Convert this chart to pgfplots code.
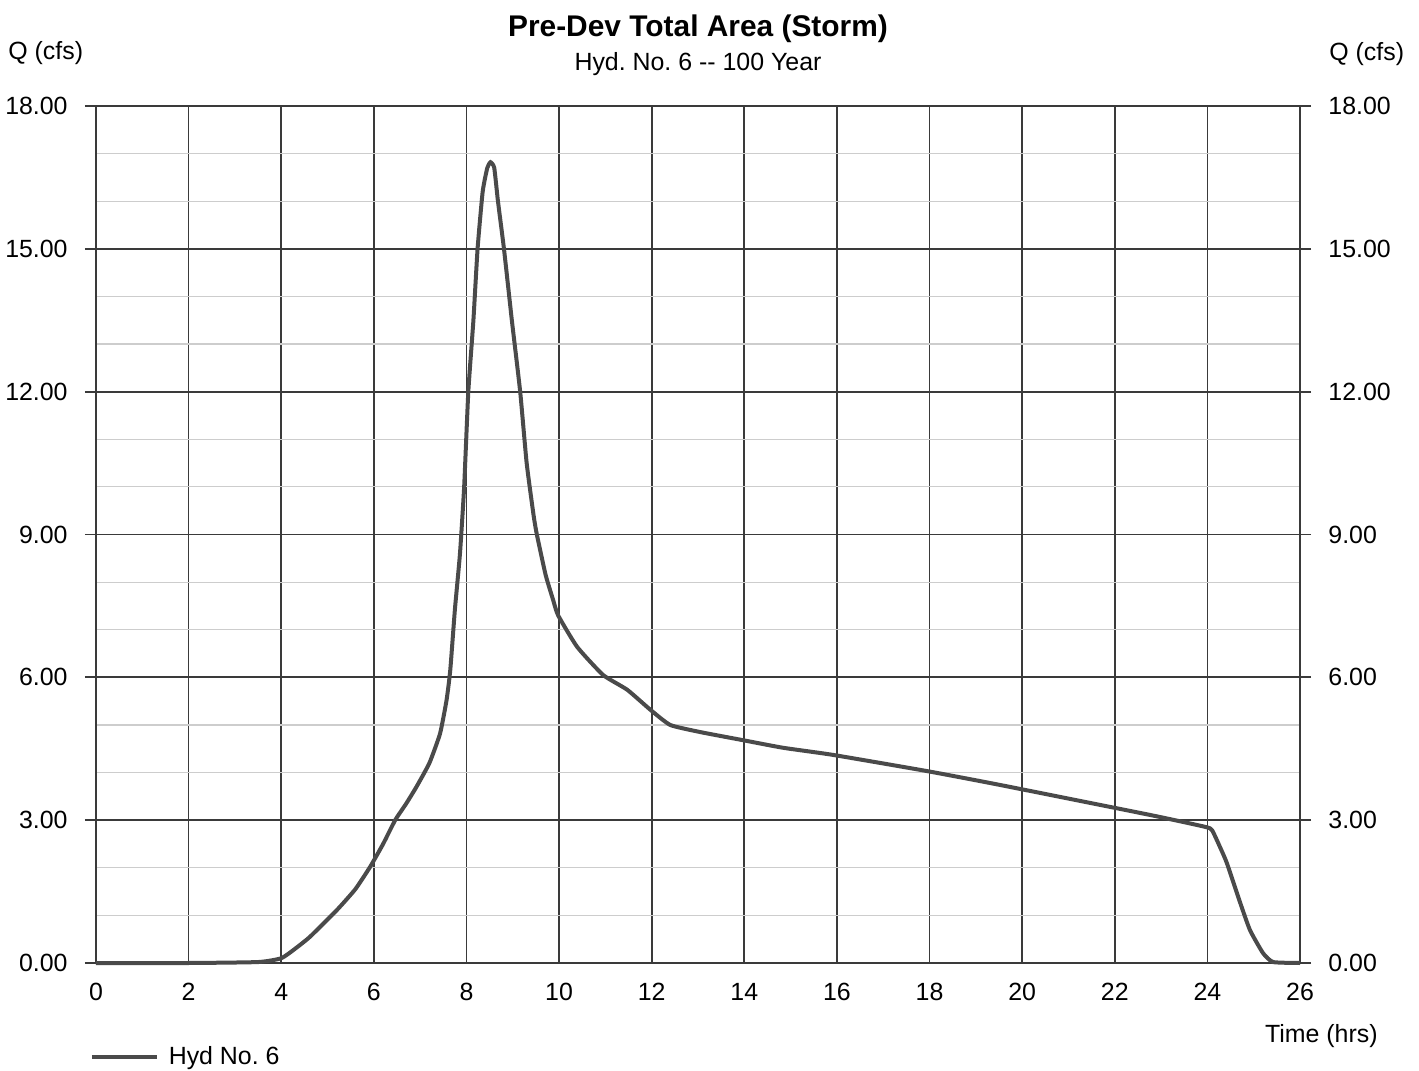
\documentclass[border=0pt]{standalone}
\usepackage{pgfplots}
\pgfplotsset{compat=1.18}
\usepackage{fontspec}
\setmainfont{Liberation Sans}
\frenchspacing

\definecolor{gridc}{HTML}{3A3A3A}
\definecolor{minorc}{HTML}{CDCDCD}
\definecolor{curvec}{HTML}{4A4A4A}

\newcommand\tickfont{\fontsize{12.5}{14}\selectfont}

\pgfplotsset{hydro/.style={
    scale only axis, width=602bp, height=428.5bp,
    xmin=0, xmax=26, ymin=0, ymax=18,
    ytick={0,3,...,18},
    tick label style={font=\tickfont},
    /pgf/number format/assume math mode=true,
    y tick label style={/pgf/number format/fixed,
      /pgf/number format/fixed zerofill, /pgf/number format/precision=2},
    major tick length=5.5bp, tick align=outside,
    ytick style={gridc, line width=0.85bp},
  }}

\begin{document}
\begin{tikzpicture}
\begin{axis}[hydro, clip=false,
    xtick={0,2,...,26},
    minor ytick={0,1,...,18},
    minor tick length=0pt,
    xmajorgrids, ymajorgrids, yminorgrids,
    major grid style={gridc, line width=0.85bp},
    minor grid style={minorc, line width=0.6bp},
    axis line style={gridc, line width=0.85bp},
    xtick style={draw=none},
    ytick pos=left,
    xticklabel style={inner sep=0pt, yshift=-4.5bp},
    yticklabel style={inner sep=0pt, xshift=-8.5bp},
    legend style={draw=none, fill=none, inner sep=0pt,
      at={(axis description cs:-0.0055,-0.11)}, anchor=west,
      nodes={inner sep=0pt, font=\tickfont}, column sep=5bp},
    legend image code/.code={\draw[#1] (0bp,0bp) -- (32.5bp,0bp);},
  ]
\addplot[curvec, line width=2bp, smooth, tension=0.3] coordinates {
  (0,0) (2,0) (3.5,0.02) (4.0,0.1) (4.3,0.3) (4.62,0.55) (5.2,1.11)
  (5.6,1.55) (5.92,2.02) (6.2,2.5) (6.46,3.0) (6.7,3.35) (6.92,3.70)
  (7.2,4.2) (7.43,4.82) (7.57,5.52) (7.65,6.15) (7.75,7.42) (7.86,8.6)
  (7.95,10.0) (8.04,12.0) (8.15,13.5) (8.24,15.0) (8.35,16.2) (8.45,16.7)
  (8.52,16.82) (8.6,16.7) (8.68,16.0) (8.81,15.0) (8.98,13.5) (9.16,12.0)
  (9.30,10.5) (9.45,9.4) (9.52,9.0) (9.71,8.15) (9.87,7.63) (9.98,7.30)
  (10.39,6.64) (10.95,6.05) (11.47,5.74) (11.97,5.32) (12.4,5.0)
  (13.05,4.85) (13.97,4.68) (14.84,4.52) (15.92,4.37) (17.95,4.03)
  (19.52,3.74) (22.76,3.11) (23.95,2.86) (24.1,2.79) (24.27,2.44)
  (24.42,2.10) (24.71,1.26) (24.92,0.69) (25.2,0.21) (25.42,0.02) (26,0)
};
\addlegendentry{Hyd No. 6}

\node[anchor=base, font=\bfseries\fontsize{15}{18}\selectfont]
  at (rel axis cs:0.5,1) [yshift=34.5bp] {Pre-Dev Total Area (Storm)};
\node[anchor=base, font=\tickfont]
  at (rel axis cs:0.5,1) [yshift=17.5bp] {Hyd. No. 6 -\kern0pt- 100 Year};
\node[anchor=base west, inner sep=0pt, font=\tickfont]
  at (rel axis cs:0,1) [xshift=-44bp, yshift=23bp] {Q (cfs)};
\node[anchor=base west, inner sep=0pt, font=\tickfont]
  at (rel axis cs:1,1) [xshift=14.5bp, yshift=22.5bp] {Q (cfs)};
\node[anchor=base east, inner sep=0pt, font=\tickfont]
  at (rel axis cs:1,0) [xshift=39bp, yshift=-39.8bp] {Time (hrs)};
\end{axis}

\begin{axis}[hydro,
    axis x line=none, axis y line*=right,
    axis line style={draw=none},
    yticklabel pos=right,
    yticklabel style={inner sep=0pt, xshift=8.5bp},
  ]
\end{axis}

\useasboundingbox (-48bp,-54bp) rectangle (661.5bp,481.5bp);
\end{tikzpicture}
\end{document}
